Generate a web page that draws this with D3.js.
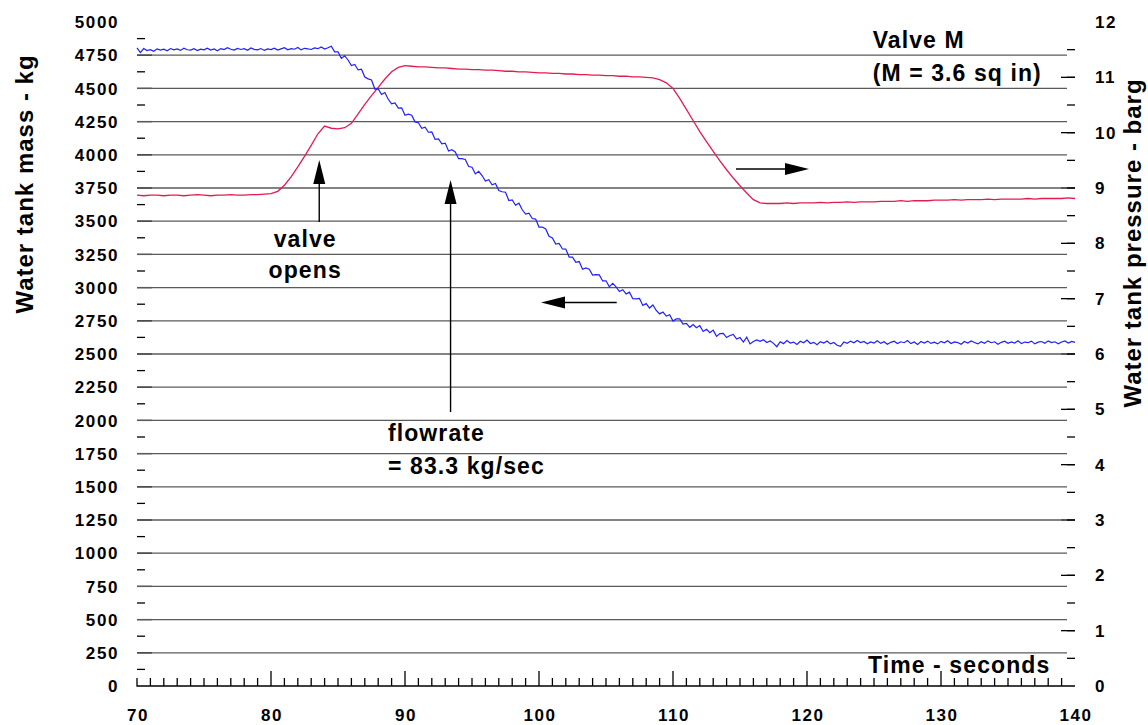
<!DOCTYPE html>
<html>
<head>
<meta charset="utf-8">
<script src="https://cdn.jsdelivr.net/npm/d3@7"></script>
<style>
  body { margin: 0; background: #fff; }
  svg { display: block; }
  text { font-family: "Liberation Sans", Arial, sans-serif; font-weight: bold; fill: #000; }
  .tick-label { font-size: 17px; letter-spacing: 1.6px; }
  .big { font-size: 23px; letter-spacing: 1.1px; }
  .axis-title { font-size: 24px; letter-spacing: 1px; }
</style>
</head>
<body>
<svg></svg>
<script>
  var width = 1148;
  var height = 725;

  // tick labels
  var timeTicks = [70, 80, 90, 100, 110, 120, 130, 140];
  var massTicks = [0, 250, 500, 750, 1000, 1250, 1500, 1750, 2000, 2250, 2500,
    2750, 3000, 3250, 3500, 3750, 4000, 4250, 4500, 4750, 5000];
  var pressTicks = [0, 1, 2, 3, 4, 5, 6, 7, 8, 9, 10, 11, 12];

  // water tank mass (kg), one sample every 0.25 s from 70 s
  var massStart = 70, massStep = 0.25;
  var massKg = [
    4805, 4770, 4800, 4785, 4792, 4780, 4798, 4788, 4795, 4783, 4800, 4790, 4797, 4786, 4802, 4791, 4788, 4799, 4785, 4796,
    4790, 4803, 4789, 4797, 4784, 4800, 4792, 4806, 4795, 4788, 4801, 4793, 4799, 4787, 4804, 4794, 4790, 4800, 4786, 4797,
    4792, 4803, 4789, 4798, 4806, 4791, 4800, 4795, 4808, 4790, 4802, 4797, 4793, 4805, 4799, 4812, 4796, 4806,
    4818, 4775, 4776, 4726, 4746, 4714, 4672, 4680, 4639, 4644, 4586, 4572, 4563, 4495, 4496, 4454, 4469, 4418, 4384, 4390,
    4352, 4354, 4298, 4306, 4298, 4248, 4242, 4200, 4208, 4170, 4172, 4116, 4120, 4082, 4088, 4028, 4038, 4022, 3971, 3971,
    3965, 3912, 3906, 3856, 3876, 3844, 3802, 3812, 3774, 3784, 3731, 3722, 3718, 3656, 3660, 3620, 3636, 3586, 3554, 3560,
    3520, 3516, 3456, 3456, 3442, 3386, 3374, 3328, 3332, 3291, 3290, 3229, 3230, 3190, 3196, 3138, 3148, 3138, 3094, 3098,
    3096, 3050, 3051, 3006, 3032, 3006, 2970, 2984, 2952, 2966, 2916, 2915, 2918, 2866, 2880, 2846, 2869, 2828, 2802, 2816,
    2786, 2796, 2748, 2764, 2765, 2725, 2730, 2701, 2722, 2698, 2714, 2670, 2686, 2661, 2680, 2633, 2654, 2656, 2624, 2639,
    2648, 2613, 2624, 2590, 2626, 2576, 2594, 2606, 2595, 2607, 2587,
    2598, 2580, 2555, 2592, 2578, 2601, 2583, 2590, 2572, 2596, 2585, 2605, 2579, 2588, 2570, 2593, 2582, 2598, 2576, 2587,
    2566, 2558, 2590, 2581, 2597, 2584, 2602, 2586, 2594, 2577, 2591, 2583, 2599, 2580, 2593, 2574, 2588, 2596, 2579, 2592,
    2585, 2601, 2578, 2590, 2571, 2594, 2583, 2597, 2580, 2589, 2576, 2595, 2584, 2600, 2579, 2591, 2586, 2573, 2594, 2582,
    2598, 2587, 2576, 2593, 2581, 2599, 2585, 2592, 2574, 2588, 2596, 2580, 2591, 2583, 2600, 2578, 2590, 2585, 2597, 2576,
    2589, 2594, 2581, 2599, 2586, 2592, 2577, 2590, 2598, 2583, 2595, 2588
  ];

  // water tank pressure (barg), one sample every 0.5 s from 70 s
  var pressStart = 70, pressStep = 0.5;
  var pressBarg = [
    8.87, 8.86, 8.87, 8.87, 8.86, 8.87, 8.87, 8.86, 8.87, 8.88, 8.87, 8.86, 8.87, 8.87, 8.88, 8.87, 8.87, 8.88, 8.88, 8.89,
    8.90, 8.94, 9.05, 9.20, 9.38, 9.57, 9.77, 9.98, 10.12, 10.08, 10.07, 10.09, 10.17, 10.34, 10.51, 10.67, 10.82, 10.97, 11.10, 11.18,
    11.21, 11.20, 11.19, 11.19, 11.18, 11.17, 11.17, 11.16, 11.15, 11.15, 11.14, 11.14, 11.13, 11.13, 11.12, 11.11, 11.11, 11.10, 11.10, 11.09,
    11.08, 11.08, 11.07, 11.07, 11.06, 11.06, 11.05, 11.05, 11.04, 11.04, 11.03, 11.03, 11.02, 11.02, 11.01, 11.01, 11.00, 10.99, 10.96, 10.90,
    10.80, 10.62, 10.42, 10.22, 10.02, 9.84, 9.66, 9.49, 9.33, 9.18, 9.04, 8.91, 8.79, 8.73, 8.72, 8.72, 8.72, 8.73, 8.72, 8.73,
    8.73, 8.73, 8.74, 8.73, 8.74, 8.74, 8.75, 8.74, 8.75, 8.75, 8.75, 8.76, 8.76, 8.76, 8.77, 8.76, 8.77, 8.77, 8.77, 8.78,
    8.78, 8.78, 8.79, 8.78, 8.79, 8.79, 8.79, 8.80, 8.79, 8.80, 8.80, 8.80, 8.80, 8.81, 8.80, 8.81, 8.81, 8.81, 8.81, 8.82,
    8.81
  ];

  var svg = d3.select('svg')
    .attr('width', width)
    .attr('height', height)
    ;

  var x = d3.scaleLinear().domain([70, 140]).range([137, 1075]);
  var yMass = d3.scaleLinear().domain([0, 5000]).range([686, 22]);
  var yPress = d3.scaleLinear().domain([0, 12]).range([686, 22]);

  // frame edges (the chart has an offset double frame)
  var left = x(70), right = x(140), top = yMass(5000), bottom = yMass(0);
  var innerRight = right - 8, innerBottom = bottom - 8;

  var frame = svg.append('g')
    .attr('fill', 'none')
    .attr('stroke', '#000')
    .attr('stroke-width', 1.3);

  // horizontal grid at each 250 kg
  svg.append('g')
    .selectAll('line')
    .data(massTicks.slice(1, -1))
    .enter()
    .append('line')
    .attr('x1', left)
    .attr('x2', innerRight)
    .attr('y1', function (d) { return yMass(d); })
    .attr('y2', function (d) { return yMass(d); })
    .attr('stroke', '#5a5a5a')
    .attr('stroke-width', 1.3);

  // left major ticks (darker stub) + minor ticks
  frame.selectAll('line.major')
    .data(massTicks.slice(1, -1))
    .enter()
    .append('line')
    .attr('class', 'major')
    .attr('x1', left).attr('x2', left + 15)
    .attr('y1', function (d) { return yMass(d); })
    .attr('y2', function (d) { return yMass(d); });
  frame.selectAll('line.minor')
    .data(d3.range(125, 5000, 250))
    .enter()
    .append('line')
    .attr('class', 'minor')
    .attr('x1', left).attr('x2', left + 8)
    .attr('y1', function (d) { return yMass(d); })
    .attr('y2', function (d) { return yMass(d); });

  // outer and inner frame
  frame.append('path')
    .attr('d', 'M' + (left - 3) + ',' + innerBottom + 'V' + (top - 2) + 'H' + innerRight + 'V' + innerBottom + 'Z');
  frame.append('path')
    .attr('d', 'M' + left + ',' + innerBottom + 'V' + bottom + 'H' + right + 'V' + top + 'H' + innerRight);

  // bottom strip: one box per second
  frame.selectAll('line.sec')
    .data(d3.range(71, 140, 1))
    .enter()
    .append('line')
    .attr('class', 'sec')
    .attr('x1', function (d) { return x(d); })
    .attr('x2', function (d) { return x(d); })
    .attr('y1', innerBottom).attr('y2', bottom);
  frame.selectAll('line.xmajor')
    .data(timeTicks.slice(1, -1))
    .enter()
    .append('line')
    .attr('class', 'xmajor')
    .attr('x1', function (d) { return x(d); })
    .attr('x2', function (d) { return x(d); })
    .attr('y1', innerBottom - 7).attr('y2', innerBottom);

  // right strip: half-barg boxes, integer ticks
  frame.selectAll('line.half')
    .data(d3.range(0.5, 12, 0.5))
    .enter()
    .append('line')
    .attr('class', 'half')
    .attr('x1', innerRight).attr('x2', right)
    .attr('y1', function (d) { return yPress(d); })
    .attr('y2', function (d) { return yPress(d); });
  frame.selectAll('line.ptick')
    .data(pressTicks.slice(1, -1))
    .enter()
    .append('line')
    .attr('class', 'ptick')
    .attr('x1', innerRight - 6).attr('x2', right)
    .attr('y1', function (d) { return yPress(d); })
    .attr('y2', function (d) { return yPress(d); });

  // tick labels
  svg.append('g').selectAll('text')
    .data(massTicks)
    .enter()
    .append('text')
    .attr('class', 'tick-label')
    .attr('x', 119)
    .attr('y', function (d) { return yMass(d); })
    .attr('dy', '0.36em')
    .attr('text-anchor', 'end')
    .text(function (d) { return d; });

  svg.append('g').selectAll('text')
    .data(pressTicks)
    .enter()
    .append('text')
    .attr('class', 'tick-label')
    .attr('x', 1095)
    .attr('y', function (d) { return yPress(d); })
    .attr('dy', '0.36em')
    .attr('text-anchor', 'start')
    .text(function (d) { return d; });

  svg.append('g').selectAll('text')
    .data(timeTicks)
    .enter()
    .append('text')
    .attr('class', 'tick-label')
    .attr('x', function (d) { return x(d) + 1; })
    .attr('y', 721)
    .attr('text-anchor', 'middle')
    .text(function (d) { return d; });

  // axis titles
  svg.append('text')
    .attr('class', 'axis-title')
    .attr('transform', 'translate(33,184) rotate(-90)')
    .attr('text-anchor', 'middle')
    .text('Water tank mass - kg');
  svg.append('text')
    .attr('class', 'axis-title')
    .attr('transform', 'translate(1141,243) rotate(-90)')
    .attr('text-anchor', 'middle')
    .text('Water tank pressure - barg');

  // series
  var massLine = d3.line()
    .x(function (d, i) { return x(massStart + i * massStep); })
    .y(function (d) { return yMass(d); });
  var pressLine = d3.line()
    .x(function (d, i) { return x(pressStart + i * pressStep); })
    .y(function (d) { return yPress(d); });

  svg.append('path')
    .attr('d', pressLine(pressBarg))
    .attr('fill', 'none')
    .attr('stroke', '#e31c4f')
    .attr('stroke-width', 1.3);
  svg.append('path')
    .attr('d', massLine(massKg))
    .attr('fill', 'none')
    .attr('stroke', '#1f1fff')
    .attr('stroke-width', 1.2);

  // annotations, placed in data units (time s, mass kg)
  var arrows = [
    { x1: 83.6, y1: 3494, x2: 83.6, y2: 3961 },    // valve opens
    { x1: 93.4, y1: 2063, x2: 93.4, y2: 3810 },    // flowrate
    { x1: 114.7, y1: 3893, x2: 120.15, y2: 3893 }, // pressure -> right axis
    { x1: 105.8, y1: 2888, x2: 100.15, y2: 2888 }  // mass -> left axis
  ];
  var ann = svg.append('g');
  arrows.forEach(function (a) {
    var sx = x(a.x1), sy = yMass(a.y1), tx = x(a.x2), ty = yMass(a.y2);
    var ang = Math.atan2(ty - sy, tx - sx);
    var len = 24, half = 6;
    var bx = tx - len * Math.cos(ang), by = ty - len * Math.sin(ang);
    ann.append('line')
      .attr('x1', sx).attr('y1', sy)
      .attr('x2', bx).attr('y2', by)
      .attr('stroke', '#000')
      .attr('stroke-width', 1.4);
    ann.append('path')
      .attr('d', 'M' + tx + ',' + ty +
        'L' + (bx + half * Math.sin(ang)) + ',' + (by - half * Math.cos(ang)) +
        'L' + (bx - half * Math.sin(ang)) + ',' + (by + half * Math.cos(ang)) + 'Z')
      .attr('fill', '#000');
  });

  var notes = [
    { t: 82.55, kg: 3306, anchor: 'middle', text: 'valve' },
    { t: 82.55, kg: 3072, anchor: 'middle', text: 'opens' },
    { t: 88.73, kg: 1845, anchor: 'start', text: 'flowrate' },
    { t: 88.73, kg: 1596, anchor: 'start', text: '= 83.3 kg/sec' },
    { t: 124.9, kg: 4804, anchor: 'start', text: 'Valve M' },
    { t: 124.9, kg: 4556, anchor: 'start', text: '(M = 3.6 sq in)' },
    { t: 124.55, kg: 98, anchor: 'start', text: 'Time - seconds' }
  ];
  ann.selectAll('text')
    .data(notes)
    .enter()
    .append('text')
    .attr('class', 'big')
    .attr('x', function (d) { return x(d.t); })
    .attr('y', function (d) { return yMass(d.kg); })
    .attr('text-anchor', function (d) { return d.anchor; })
    .text(function (d) { return d.text; });
</script>
</body>
</html>
